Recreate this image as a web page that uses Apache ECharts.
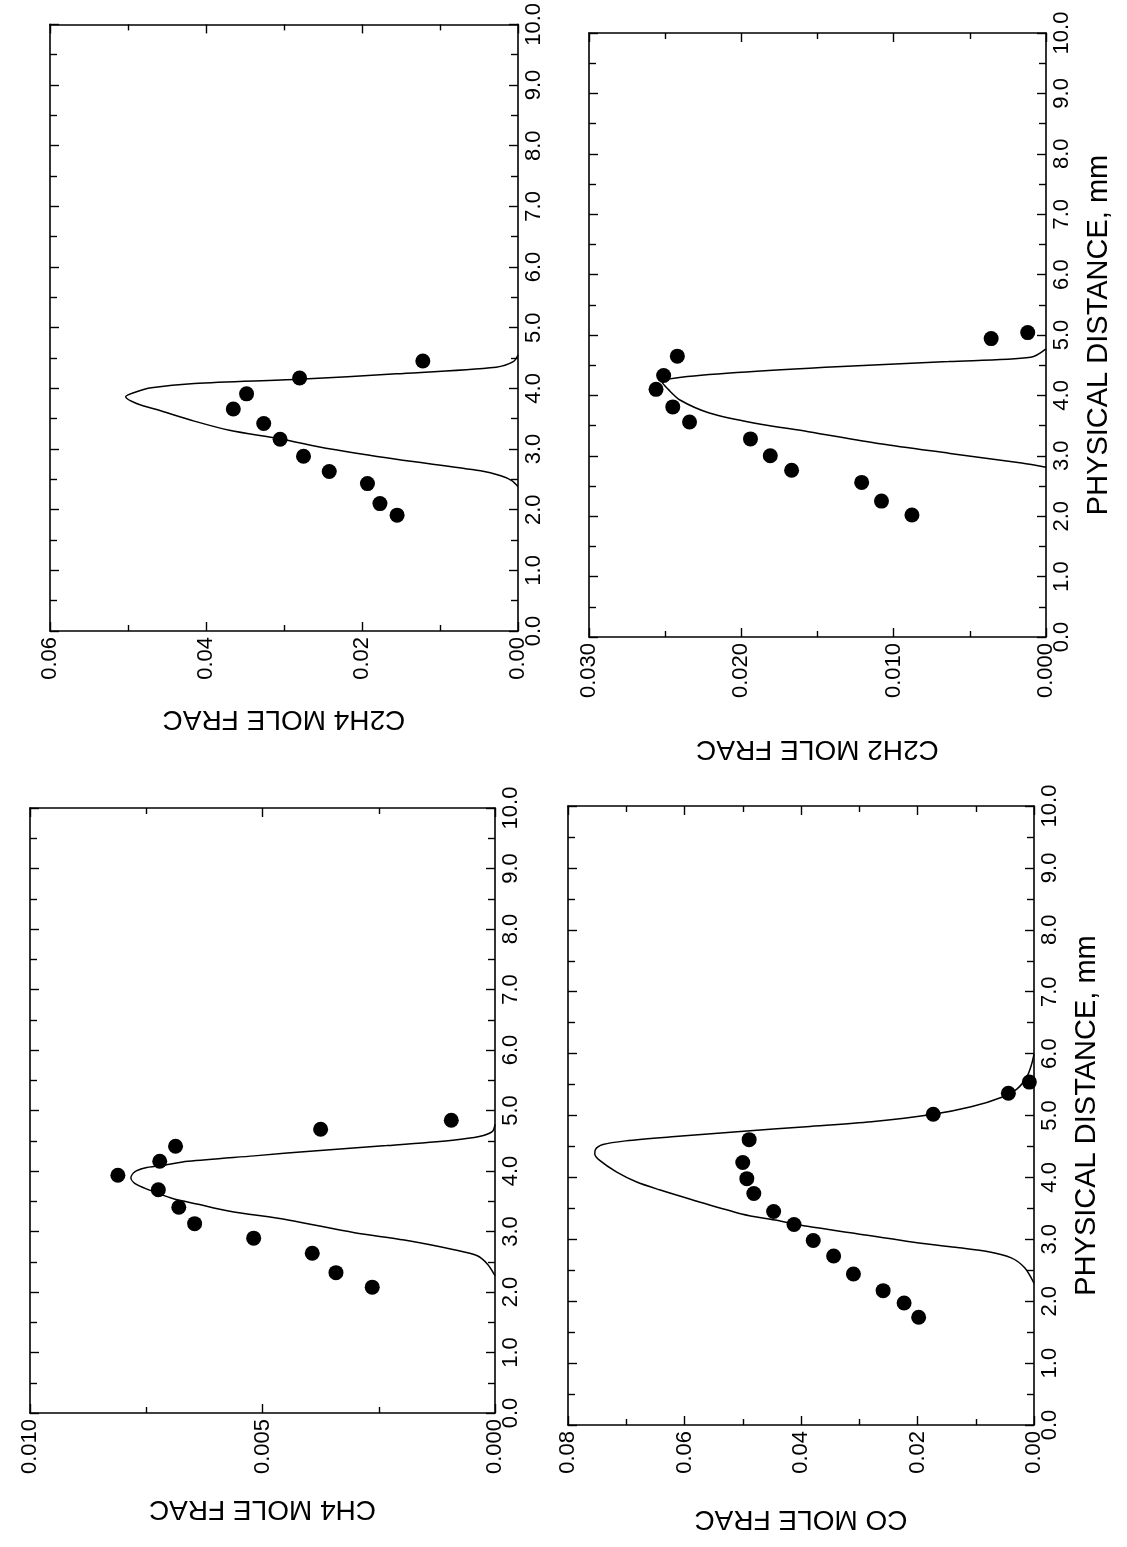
<!DOCTYPE html>
<html>
<head>
<meta charset="utf-8">
<script src="https://cdn.jsdelivr.net/npm/echarts@6/dist/echarts.min.js"></script>
<style>
  html, body { margin: 0; padding: 0; background: #fff; }
  #main { width: 1127px; height: 1547px; }
</style>
</head>
<body>
<div id="main"></div>
<script>
// distance along the flame (mm) and mole fractions
// C2H4
var c2h4PtDist = [1.91, 2.10, 2.43, 2.63, 2.88, 3.16, 3.42, 3.66, 3.91, 4.17, 4.45]
var c2h4PtFrac = [0.0155, 0.0177, 0.0193, 0.0242, 0.0275, 0.0305, 0.0326, 0.0365, 0.0348, 0.0280, 0.0122]
var c2h4CurveDist = [2.38, 2.48, 2.56, 2.64, 2.83, 3.00, 3.17, 3.31, 3.46, 3.63, 3.75, 3.86, 3.94, 4.01, 4.08, 4.15, 4.24, 4.35, 4.44, 4.55]
var c2h4CurveFrac = [0, 0.0008, 0.0022, 0.0048, 0.0156, 0.0240, 0.0306, 0.0370, 0.0415, 0.0458, 0.0489, 0.0503, 0.0490, 0.0470, 0.0415, 0.0281, 0.0156, 0.0028, 0.0006, 0]

// C2H2
var c2h2PtDist = [2.02, 2.25, 2.56, 2.76, 3.00, 3.28, 3.56, 3.81, 4.10, 4.33, 4.65, 4.94, 5.04]
var c2h2PtFrac = [0.0088, 0.0108, 0.0121, 0.0167, 0.0181, 0.0194, 0.0234, 0.0245, 0.0256, 0.0251, 0.0242, 0.0036, 0.0012]
var c2h2CurveDist = [2.81, 2.88, 3.04, 3.20, 3.40, 3.54, 3.71, 3.92, 4.10, 4.22, 4.29, 4.38, 4.48, 4.56, 4.63, 4.77]
var c2h2CurveFrac = [0, 0.0016, 0.0063, 0.0109, 0.0156, 0.0191, 0.0221, 0.0240, 0.0248, 0.0252, 0.0243, 0.0203, 0.0134, 0.0064, 0.0010, 0]

// CH4
var ch4PtDist = [2.08, 2.32, 2.64, 2.89, 3.13, 3.40, 3.69, 3.93, 4.16, 4.41, 4.69, 4.84]
var ch4PtFrac = [0.00264, 0.00342, 0.00393, 0.00519, 0.00646, 0.0068, 0.00724, 0.00811, 0.00721, 0.00687, 0.00375, 0.00094]
var ch4CurveDist = [2.27, 2.46, 2.60, 2.70, 2.86, 2.98, 3.19, 3.34, 3.45, 3.55, 3.69, 3.79, 3.89, 3.99, 4.05, 4.09, 4.16, 4.25, 4.34, 4.42, 4.51, 4.57, 4.65, 4.77]
var ch4CurveFrac = [0, 0.00016, 0.00038, 0.00088, 0.00195, 0.00302, 0.00445, 0.00573, 0.00638, 0.00695, 0.00745, 0.00774, 0.00783, 0.00774, 0.00753, 0.00717, 0.0066, 0.00518, 0.00376, 0.00233, 0.00091, 0.00034, 0.00006, 0]

// CO
var coPtDist = [1.74, 1.97, 2.17, 2.44, 2.73, 2.98, 3.24, 3.45, 3.74, 3.98, 4.24, 4.61, 5.02, 5.36, 5.54]
var coPtFrac = [0.0198, 0.0223, 0.0259, 0.0310, 0.0344, 0.0379, 0.0412, 0.0447, 0.0481, 0.0493, 0.0500, 0.0489, 0.0173, 0.0044, 0.0008]
var coCurveDist = [2.29, 2.54, 2.70, 2.80, 2.87, 2.97, 3.09, 3.21, 3.31, 3.41, 3.64, 3.80, 3.93, 4.09, 4.27, 4.38, 4.45, 4.53, 4.59, 4.66, 4.74, 4.82, 4.90, 5.02, 5.14, 5.30, 5.43, 5.63, 5.83, 5.99]
var coCurveFrac = [0, 0.0016, 0.0039, 0.0078, 0.0135, 0.0219, 0.0304, 0.0389, 0.0445, 0.0502, 0.0587, 0.0643, 0.0683, 0.0717, 0.0745, 0.0754, 0.0753, 0.0740, 0.0701, 0.0616, 0.0504, 0.0391, 0.0279, 0.0173, 0.0108, 0.0054, 0.0029, 0.0012, 0.0004, 0]

var distTicks = { min: 0, max: 10, step: 1 }
var distName = 'PHYSICAL DISTANCE, mm'

var FONT = '"Liberation Sans", Arial, Helvetica, sans-serif'

// one entry per panel
var panels = [
  { name: 'C2H4 MOLE FRAC', max: 0.06, step: 0.02, digits: 2, gap: 74, distName: false,
    grid: { left: 50, top: 21, width: 468, height: 610 },
    pt: [c2h4PtDist, c2h4PtFrac], curve: [c2h4CurveDist, c2h4CurveFrac] },
  { name: 'C2H2 MOLE FRAC', max: 0.03, step: 0.01, digits: 3, gap: 98, distName: true,
    grid: { left: 589, top: 33, width: 457, height: 604 },
    pt: [c2h2PtDist, c2h2PtFrac], curve: [c2h2CurveDist, c2h2CurveFrac] },
  { name: 'CH4 MOLE FRAC', max: 0.01, step: 0.005, digits: 3, gap: 82, distName: false,
    grid: { left: 30, top: 808, width: 465, height: 605 },
    pt: [ch4PtDist, ch4PtFrac], curve: [ch4CurveDist, ch4CurveFrac] },
  { name: 'CO MOLE FRAC', max: 0.08, step: 0.02, digits: 2, gap: 80, distName: true,
    grid: { left: 568, top: 806, width: 466, height: 619 },
    pt: [coPtDist, coPtFrac], curve: [coCurveDist, coCurveFrac] }
]

var black = '#000'
var lineStyle = { color: black, width: 1.6 }
var tickStyle = { color: black, width: 1.4 }

function pairs (dist, frac) {
  return frac.map(function (f, k) { return [f, dist[k]] })
}

var grids = []
var xAxes = []
var yAxes = []
var series = []

panels.forEach(function (p, i) {
  grids.push(Object.assign({ show: false, containLabel: false }, p.grid))

  var fracBase = {
    gridIndex: i,
    type: 'value',
    inverse: true,
    min: 0,
    max: p.max,
    interval: p.step,
    axisLine: { show: true, onZero: false, lineStyle: lineStyle },
    axisTick: { show: true, inside: true, length: 9, lineStyle: tickStyle },
    minorTick: { show: true, splitNumber: 2, length: 6, lineStyle: tickStyle },
    splitLine: { show: false }
  }
  // bottom axis with labels and the upside-down name
  xAxes.push(Object.assign({}, fracBase, {
    position: 'bottom',
    name: p.name,
    nameLocation: 'middle',
    nameGap: p.gap,
    nameRotate: 180,
    nameTextStyle: { fontFamily: FONT, fontSize: 28, color: black },
    axisLabel: {
      rotate: 90, margin: 6, fontSize: 22, fontFamily: FONT, color: black,
      showMinLabel: true, showMaxLabel: true,
      formatter: function (v) { return v.toFixed(p.digits) }
    }
  }))
  // top edge, ticks only
  xAxes.push(Object.assign({}, fracBase, { position: 'top', axisLabel: { show: false } }))

  var distBase = {
    gridIndex: i,
    type: 'value',
    min: distTicks.min,
    max: distTicks.max,
    interval: distTicks.step,
    axisLine: { show: true, onZero: false, lineStyle: lineStyle },
    axisTick: { show: true, inside: true, length: 9, lineStyle: tickStyle },
    minorTick: { show: true, splitNumber: 2, length: 7, lineStyle: tickStyle },
    splitLine: { show: false }
  }
  var right = Object.assign({}, distBase, {
    position: 'right',
    axisLabel: {
      rotate: 90, margin: 5, fontSize: 22, fontFamily: FONT, color: black,
      showMinLabel: true, showMaxLabel: true,
      formatter: function (v) { return v.toFixed(1) }
    }
  })
  if (p.distName) {
    right.name = distName
    right.nameLocation = 'middle'
    right.nameRotate = 90
    right.nameGap = 38
    right.nameTextStyle = { fontFamily: FONT, fontSize: 29, color: black }
  }
  yAxes.push(right)
  yAxes.push(Object.assign({}, distBase, { position: 'left', axisLabel: { show: false } }))

  series.push({
    type: 'line',
    xAxisIndex: 2 * i,
    yAxisIndex: 2 * i,
    data: pairs(p.curve[0], p.curve[1]),
    showSymbol: false,
    smooth: 0.3,
    lineStyle: { color: black, width: 1.5 },
    silent: true
  })
  series.push({
    type: 'scatter',
    xAxisIndex: 2 * i,
    yAxisIndex: 2 * i,
    data: pairs(p.pt[0], p.pt[1]),
    symbol: 'circle',
    symbolSize: 15,
    itemStyle: { color: black, opacity: 1 }
  })
})

var myChart = echarts.init(document.getElementById('main'))
myChart.setOption({
  backgroundColor: '#fff',
  animation: false,
  grid: grids,
  xAxis: xAxes,
  yAxis: yAxes,
  series: series
})
</script>
</body>
</html>
